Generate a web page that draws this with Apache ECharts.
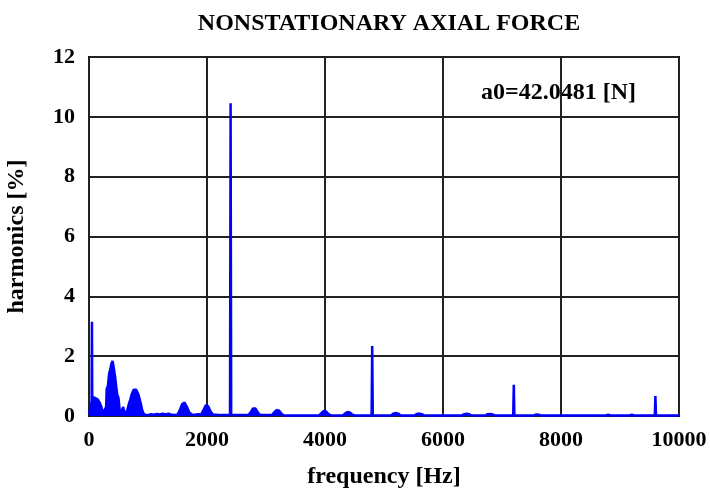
<!DOCTYPE html>
<html><head><meta charset="utf-8">
<script src="https://cdn.jsdelivr.net/npm/echarts@6/dist/echarts.min.js"></script>
<style>html,body{margin:0;padding:0;background:#fff}#c{width:710px;height:493px}</style>
</head><body><div id="c"></div>
<script>
var titleText = 'NONSTATIONARY AXIAL FORCE';
var xName = 'frequency [Hz]';
var yName = 'harmonics [%]';
var note = 'a0=42.0481 [N]';
var freqHz = [0, 30, 45, 50, 55, 70, 90, 120, 150, 180, 210, 240, 270, 290, 300, 320, 340, 360, 380, 400, 420, 440, 460, 480, 500, 520, 540, 560, 580, 600, 620, 650, 680, 700, 720, 740, 760, 780, 800, 820, 840, 860, 880, 900, 920, 950,
  1000, 1050, 1100, 1150, 1200, 1250, 1300, 1350, 1400, 1450, 1500, 1540, 1580, 1620, 1660, 1700, 1740, 1800, 1850, 1900, 1940, 1980, 2020, 2060, 2100, 2200,
  2390, 2400, 2410, 2700, 2740, 2780, 2820, 2860, 2900, 3100, 3140, 3180, 3220, 3260, 3300,
  3900, 3940, 3980, 4020, 4060, 4100, 4300, 4340, 4380, 4420, 4460, 4500,
  4790, 4800, 4810, 5120, 5160, 5200, 5240, 5280, 5520, 5560, 5600, 5640, 5680,
  6320, 6360, 6400, 6440, 6480, 6720, 6760, 6800, 6840, 6880,
  7190, 7200, 7210, 7540, 7580, 7620, 7660, 8760, 8800, 8840, 9160, 9200, 9240,
  9590, 9600, 9610, 10000];
var harmonicPct = [0.05, 0.1, 0.5, 3.15, 0.6, 0.65, 0.62, 0.6, 0.55, 0.45, 0.3, 0.1, 0.05, 0.3, 0.9, 1.0, 1.4, 1.55, 1.75, 1.84, 1.6, 1.35, 1.0, 0.7, 0.6, 0.2, 0.1, 0.1, 0.3, 0.05, 0.05, 0.2, 0.43, 0.55, 0.7, 0.8, 0.88, 0.89, 0.88, 0.85, 0.7, 0.55, 0.4, 0.2, 0.1, 0.03,
  0.03, 0.06, 0.04, 0.07, 0.05, 0.08, 0.05, 0.08, 0.04, 0.03, 0.05, 0.2, 0.4, 0.45, 0.3, 0.12, 0.05, 0.04, 0.06, 0.05, 0.2, 0.36, 0.33, 0.15, 0.05, 0.03,
  0.03, 10.45, 0.03, 0.03, 0.12, 0.25, 0.25, 0.12, 0.03, 0.03, 0.12, 0.2, 0.18, 0.08, 0.02,
  0.02, 0.1, 0.17, 0.15, 0.06, 0.02, 0.02, 0.08, 0.13, 0.12, 0.05, 0.02,
  0.02, 2.34, 0.02, 0.02, 0.08, 0.1, 0.08, 0.02, 0.02, 0.07, 0.08, 0.06, 0.02,
  0.02, 0.06, 0.08, 0.06, 0.02, 0.02, 0.06, 0.07, 0.05, 0.02,
  0.02, 1.04, 0.02, 0.02, 0.05, 0.04, 0.02, 0.02, 0.04, 0.02, 0.02, 0.04, 0.02,
  0.02, 0.67, 0.02, 0.02];
var xMin = 0, xMax = 10000, xStep = 2000;
var yMin = 0, yMax = 12, yStep = 2;

var pts = freqHz.map(function (f, i) { return [f, harmonicPct[i]]; });
var font = '"Liberation Serif", "DejaVu Serif", serif';
var chart = echarts.init(document.getElementById('c'), null, {renderer: 'canvas'});
chart.setOption({
  animation: false,
  backgroundColor: '#fff',
  title: {text: titleText, left: 384, top: 7, textAlign: 'center',
    textStyle: {fontFamily: font, fontWeight: 'bold', fontSize: 24, color: '#000'}},
  grid: {left: 89, right: 31, top: 57, bottom: 77, show: true, borderColor: '#000', borderWidth: 2,
    containLabel: false, outerBoundsMode: 'none'},
  xAxis: {type: 'value', min: xMin, max: xMax, interval: xStep,
    name: xName, nameLocation: 'middle', nameGap: 49,
    nameTextStyle: {fontFamily: font, fontWeight: 'bold', fontSize: 24, color: '#000'},
    axisLine: {show: false}, axisTick: {show: false},
    axisLabel: {fontFamily: font, fontWeight: 'bold', fontSize: 22, color: '#000', margin: 13,
      formatter: function (v) { return String(v); }},
    splitLine: {show: true, lineStyle: {color: '#222', width: 2}}},
  yAxis: {type: 'value', min: yMin, max: yMax, interval: yStep,
    name: yName, nameLocation: 'middle', nameGap: 60, nameRotate: 90,
    nameTextStyle: {fontFamily: font, fontWeight: 'bold', fontSize: 24, color: '#000'},
    axisLine: {show: false}, axisTick: {show: false},
    axisLabel: {fontFamily: font, fontWeight: 'bold', fontSize: 22, color: '#000', margin: 14},
    splitLine: {show: true, lineStyle: {color: '#222', width: 2}}},
  graphic: [{type: 'text', left: 481, top: 81,
    style: {text: note, font: 'bold 24px "Liberation Serif", serif', fill: '#000'}}],
  series: [{type: 'line', data: pts, symbol: 'none', showSymbol: false,
    lineStyle: {color: '#0000ff', width: 2.5}, areaStyle: {color: '#0000ff', opacity: 1},
    itemStyle: {color: '#0000ff'}, z: 5}]
});
</script></body></html>
